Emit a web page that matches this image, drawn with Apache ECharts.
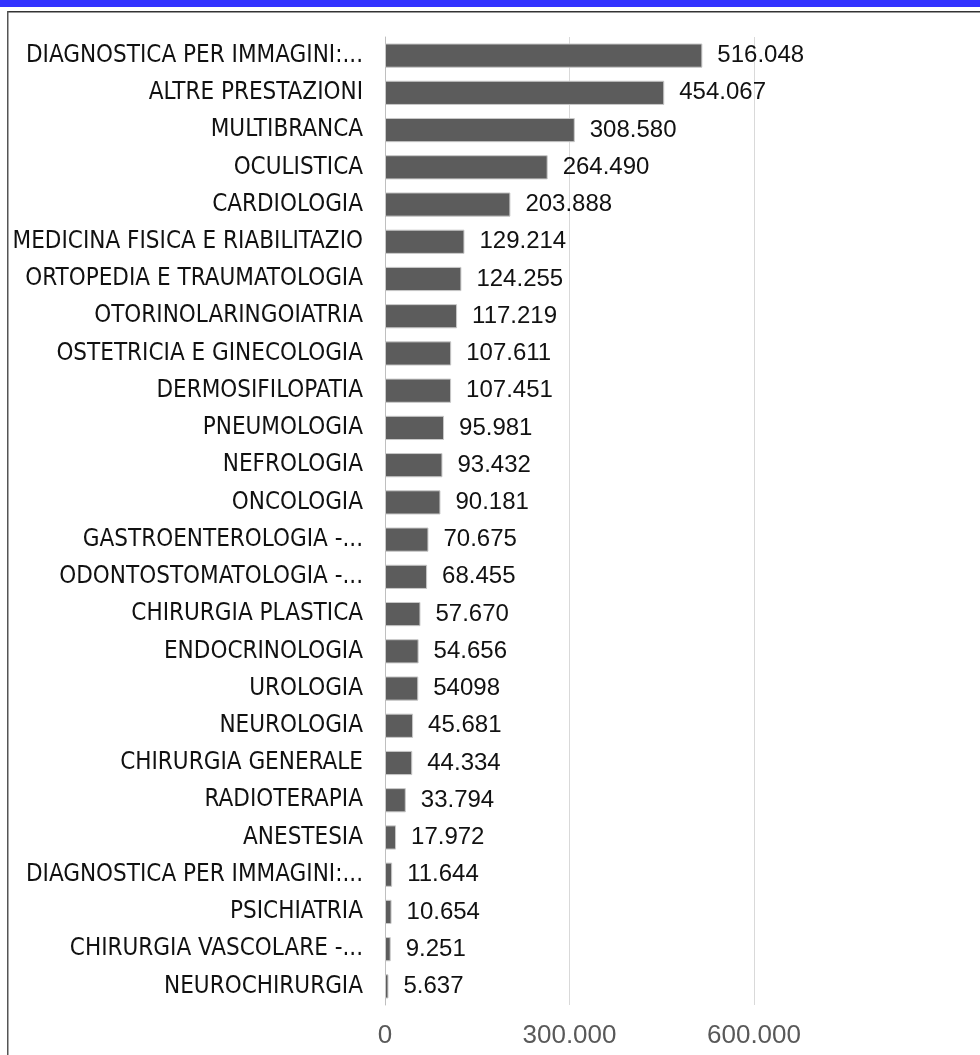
<!DOCTYPE html>
<html>
<head>
<meta charset="UTF-8">
<title>Prestazioni per branca</title>
<style>
html,body{margin:0;padding:0;background:#fff;}
#main{width:980px;height:1055px;}
</style>
</head>
<body>
<div id="main"></div>
<script src="https://cdn.jsdelivr.net/npm/echarts@6/dist/echarts.min.js"></script>
<script>
// categorie, dall'alto in basso
var categories = [
	'DIAGNOSTICA PER IMMAGINI:...', 'ALTRE PRESTAZIONI', 'MULTIBRANCA', 'OCULISTICA',
	'CARDIOLOGIA', 'MEDICINA FISICA E RIABILITAZIO', 'ORTOPEDIA E TRAUMATOLOGIA',
	'OTORINOLARINGOIATRIA', 'OSTETRICIA E GINECOLOGIA', 'DERMOSIFILOPATIA',
	'PNEUMOLOGIA', 'NEFROLOGIA', 'ONCOLOGIA', 'GASTROENTEROLOGIA -...',
	'ODONTOSTOMATOLOGIA -...', 'CHIRURGIA PLASTICA', 'ENDOCRINOLOGIA', 'UROLOGIA',
	'NEUROLOGIA', 'CHIRURGIA GENERALE', 'RADIOTERAPIA', 'ANESTESIA',
	'DIAGNOSTICA PER IMMAGINI:...', 'PSICHIATRIA', 'CHIRURGIA VASCOLARE -...', 'NEUROCHIRURGIA'
];
var values = [
	516048, 454067, 308580, 264490, 203888, 129214, 124255, 117219, 107611, 107451,
	95981, 93432, 90181, 70675, 68455, 57670, 54656, 54098, 45681, 44334,
	33794, 17972, 11644, 10654, 9251, 5637
];
// etichette come compaiono nel grafico (UROLOGIA senza separatore)
var labelText = [
	'516.048', '454.067', '308.580', '264.490', '203.888', '129.214', '124.255', '117.219', '107.611', '107.451',
	'95.981', '93.432', '90.181', '70.675', '68.455', '57.670', '54.656', '54098', '45.681', '44.334',
	'33.794', '17.972', '11.644', '10.654', '9.251', '5.637'
];
var xTicks = [0, 300000, 600000];

function fmt(v){
	return String(v).replace(/\B(?=(\d{3})+(?!\d))/g, '.');
}

var myChart = echarts.init(document.getElementById('main'));
myChart.setOption({
	animation: false,
	backgroundColor: '#fff',
	graphic: [
		{type:'rect', shape:{x:0, y:0, width:980, height:7}, style:{fill:'#3333ff'}},
		{type:'rect', shape:{x:7, y:11, width:973, height:1.5}, style:{fill:'#333'}},
		{type:'rect', shape:{x:7, y:11, width:1.5, height:1044}, style:{fill:'#555'}}
	],
	grid: {left:385, top:37, width:369, height:968, containLabel:false, outerBoundsMode:'none'},
	xAxis: {
		type: 'value',
		min: xTicks[0],
		max: xTicks[xTicks.length - 1],
		interval: xTicks[1] - xTicks[0],
		axisLine: {show:false},
		axisTick: {show:false},
		splitLine: {lineStyle:{color:'#d9d9d9', width:1}},
		axisLabel: {
			color:'#595959', fontSize:26, fontFamily:'"Liberation Sans", Arial, sans-serif',
			margin:18, formatter: fmt
		}
	},
	yAxis: {
		type: 'category',
		inverse: true,
		data: categories,
		axisLine: {show:true, lineStyle:{color:'#bfbfbf', width:1}},
		axisTick: {show:false},
		axisLabel: {
			color:'#111', fontSize:24, margin:22,
			fontFamily:'"DejaVu Sans Condensed", "Liberation Sans", sans-serif'
		}
	},
	series: [{
		type: 'bar',
		data: values,
		barCategoryGap: '35%',
		itemStyle: {color:'#5c5c5c', borderColor:'#c8c8c8', borderWidth:1},
		label: {
			show: true,
			position: 'right',
			distance: 15,
			color: '#111',
			fontSize: 24,
			fontFamily: '"Liberation Sans", Arial, sans-serif',
			formatter: function(p){ return labelText[p.dataIndex]; }
		}
	}]
});
</script>
</body>
</html>
